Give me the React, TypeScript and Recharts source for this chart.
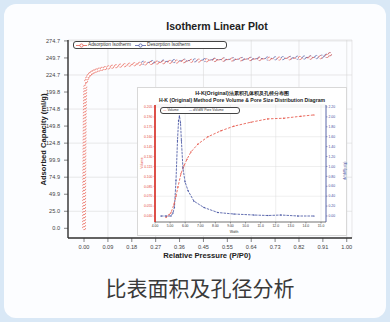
import { LineChart, Line, XAxis, YAxis, CartesianGrid } from "recharts";

// main isotherm: relative pressure (P/P0) vs adsorbed capacity (ml/g)
const ADS_P = [
  0.0, 0.0001, 0.0001, 0.0002, 0.0002, 0.0003, 0.0003, 0.0004, 0.0004, 0.0005,
  0.0005, 0.0006, 0.0006, 0.0007, 0.0007, 0.0008, 0.0008, 0.0009, 0.0009, 0.001,
  0.001, 0.0011, 0.0012, 0.0013, 0.0014, 0.0015, 0.0016, 0.0017, 0.0018, 0.0019,
  0.002, 0.0021, 0.0022, 0.0023, 0.0024, 0.0025, 0.0026, 0.0027, 0.0028, 0.003,
  0.0032, 0.0034, 0.0036, 0.0038, 0.004, 0.0043, 0.0046, 0.005,
  0.008, 0.012, 0.017, 0.023, 0.03, 0.038, 0.047, 0.057, 0.068, 0.08, 0.093,
  0.107, 0.122, 0.138, 0.155, 0.173, 0.192, 0.212, 0.233, 0.255, 0.278, 0.302,
  0.327, 0.353, 0.38, 0.408, 0.437, 0.467, 0.498, 0.53, 0.563, 0.597, 0.632,
  0.668, 0.705, 0.743, 0.782, 0.822, 0.862, 0.9, 0.925, 0.936,
];
const ADS_V = [
  0.3, 4.6, 9.1, 13.4, 17.9, 22.5, 26.8, 31.2, 35.7, 40.1,
  44.6, 49.0, 53.3, 57.9, 62.4, 66.7, 71.2, 75.6, 80.1, 84.5,
  88.9, 93.3, 97.8, 102.2, 106.7, 111.0, 115.5, 119.9, 124.3, 128.8,
  133.2, 137.6, 142.0, 146.5, 150.9, 155.3, 159.8, 164.2, 168.6, 173.0,
  177.4, 181.9, 186.2, 190.6, 195.1, 199.5, 203.8, 207.6,
  215.8, 219.9, 223.4, 226.1, 228.2, 229.9, 231.3, 232.6, 233.7, 234.8, 235.9,
  236.8, 237.6, 238.4, 239.1, 239.8, 240.5, 241.1, 241.7, 242.3, 242.9, 243.4,
  243.9, 244.4, 244.9, 245.4, 245.8, 246.3, 246.7, 247.1, 247.4, 247.7, 248.0,
  248.2, 248.5, 248.8, 249.2, 249.6, 250.1, 250.8, 252.6, 255.2,
];
const DES_P = [
  0.936, 0.922, 0.905, 0.885, 0.862, 0.838, 0.812, 0.785, 0.757, 0.728, 0.698,
  0.667, 0.635, 0.602, 0.568, 0.533, 0.497, 0.46, 0.422, 0.383, 0.343, 0.302,
  0.26, 0.225,
];
const DES_V = [
  255.2, 252.9, 251.6, 251.0, 250.6, 250.3, 250.0, 249.7, 249.4, 249.2, 248.9,
  248.7, 248.4, 248.1, 247.8, 247.5, 247.1, 246.7, 246.2, 245.7, 245.1, 244.4,
  243.6, 242.6,
];
const MAIN_X_TICKS = [0, 0.0909, 0.1818, 0.2727, 0.3636, 0.4545, 0.5455, 0.6364, 0.7273, 0.8182, 0.9091, 1.0];
const MAIN_Y_TICKS = [0, 24.97, 49.94, 74.91, 99.88, 124.82, 149.82, 174.79, 199.76, 224.73, 249.7, 274.67];

// inset: H-K pore size distribution
const VOL_W = [4.73, 4.93, 5.06, 5.26, 5.39, 5.52, 5.72, 5.92, 6.12, 6.38, 6.85, 7.51, 8.37, 9.23, 10.36, 11.48, 12.54, 13.67, 14.53];
const VOL = [0.038, 0.042, 0.045, 0.058, 0.07, 0.084, 0.104, 0.116, 0.126, 0.137, 0.149, 0.16, 0.169, 0.176, 0.182, 0.187, 0.188, 0.191, 0.193];
const DIST_W = [4.4, 4.73, 5.06, 5.19, 5.29, 5.39, 5.49, 5.56, 5.62, 5.69, 5.75, 5.85, 5.99, 6.19, 6.58, 7.25, 8.17, 9.23, 10.56, 11.48, 12.34, 13.47, 14.53];
const DIST = [0.0, 0.0, 0.0, 0.06, 0.18, 0.71, 1.52, 1.92, 2.02, 1.88, 1.52, 0.97, 0.69, 0.51, 0.3, 0.17, 0.07, 0.04, 0.02, 0.01, 0.02, 0.0, 0.0];
const INSET_X_TICKS = [4, 5, 6, 7, 8, 9, 10, 11, 12, 13, 14, 15];
const INSET_X_LABELS = ["4.00", "5.00", "6.00", "7.00", "8.00", "9.00", "10.0", "11.0", "12.0", "13.0", "14.0", "15.0"];
const INSET_L_TICKS = [0.04, 0.055, 0.07, 0.085, 0.1, 0.115, 0.13, 0.145, 0.16, 0.175, 0.19, 0.205];
const INSET_R_TICKS = [0, 0.2, 0.4, 0.6, 0.8, 1.0, 1.2, 1.4, 1.6, 1.8, 2.0, 2.2];

const RED = "#e44b3e";
const BLUE = "#3d4c9e";
const FONT = "'Liberation Sans', Arial, sans-serif";

const adsorption = ADS_P.map((x, i) => ({ x, y: ADS_V[i] }));
const desorption = DES_P.map((x, i) => ({ x, y: DES_V[i] }));
const volume = VOL_W.map((x, i) => ({ x, v: VOL[i] }));
const dist = DIST_W.map((x, i) => ({ x, d: DIST[i] }));
const minorTicks = Array.from({ length: 56 }, (_, i) => -0.0545 + i * 0.01818);

function LegendItem({ color, label }: { color: string; label: string }) {
  return (
    <span style={{ display: "inline-flex", alignItems: "center", marginRight: 4 }}>
      <svg width={11} height={5}>
        <line x1={0} y1={2.5} x2={11} y2={2.5} stroke={color} strokeWidth={0.7} />
        <circle cx={5.5} cy={2.5} r={1.6} fill="#fff" stroke={color} strokeWidth={0.7} />
      </svg>
      <span style={{ marginLeft: 1 }}>{label}</span>
    </span>
  );
}

function Inset() {
  return (
    <div
      style={{
        position: "absolute",
        left: 137,
        top: 87,
        width: 208,
        height: 147,
        background: "#fff",
        border: "0.5px solid #d8d8d8",
        fontFamily: FONT,
      }}
    >
      <div style={{ position: "absolute", left: 0, width: 208, top: 2, textAlign: "center", fontSize: 5.4, fontWeight: 700, color: "#222", lineHeight: "6px" }}>
        H-K(Original)法累积孔体积及孔径分布图
      </div>
      <div style={{ position: "absolute", left: 0, width: 208, top: 9, textAlign: "center", fontSize: 5.1, fontWeight: 700, color: "#222", lineHeight: "6px", whiteSpace: "nowrap" }}>
        H-K (Original) Method Pore Volume & Pore Size Distribution Diagram
      </div>
      <LineChart width={208} height={147} margin={{ top: 17, right: 6, bottom: 5, left: 3 }}>
        <CartesianGrid yAxisId="l" stroke="#dedede" strokeWidth={0.5} />
        <XAxis
          type="number"
          dataKey="x"
          domain={[4, 15.33]}
          allowDataOverflow
          ticks={INSET_X_TICKS}
          tickFormatter={(v: number) => INSET_X_LABELS[INSET_X_TICKS.indexOf(v)]}
          height={8}
          tickSize={1.5}
          tickMargin={1}
          tick={{ fontSize: 3.4, fill: "#333", fontFamily: FONT }}
          axisLine={{ stroke: "#444", strokeWidth: 0.7 }}
          tickLine={{ stroke: "#444", strokeWidth: 0.5 }}
        />
        <YAxis
          yAxisId="l"
          type="number"
          domain={[0.031, 0.208]}
          allowDataOverflow
          ticks={INSET_L_TICKS}
          tickFormatter={(v: number) => v.toFixed(3)}
          width={14}
          tickSize={1.5}
          tickMargin={1}
          tick={{ fontSize: 3.4, fill: RED, fontFamily: FONT }}
          axisLine={{ stroke: "#d6261e", strokeWidth: 1.6 }}
          tickLine={{ stroke: RED, strokeWidth: 0.5 }}
        />
        <YAxis
          yAxisId="r"
          orientation="right"
          type="number"
          domain={[-0.121, 2.24]}
          allowDataOverflow
          ticks={INSET_R_TICKS}
          tickFormatter={(v: number) => v.toFixed(2)}
          width={14}
          tickSize={1.5}
          tickMargin={1}
          tick={{ fontSize: 3.4, fill: BLUE, fontFamily: FONT }}
          axisLine={{ stroke: BLUE, strokeWidth: 0.8 }}
          tickLine={{ stroke: BLUE, strokeWidth: 0.5 }}
        />
        <Line
          yAxisId="r"
          data={dist}
          dataKey="d"
          stroke={BLUE}
          strokeWidth={0.8}
          strokeDasharray="2.5 1"
          dot={{ r: 0.5, fill: BLUE, stroke: BLUE, strokeWidth: 0.3 }}
          isAnimationActive={false}
        />
        <Line
          yAxisId="l"
          data={volume}
          dataKey="v"
          stroke={RED}
          strokeWidth={0.8}
          strokeDasharray="2.5 1.5"
          dot={{ r: 0.5, fill: RED, stroke: RED, strokeWidth: 0.3 }}
          isAnimationActive={false}
        />
      </LineChart>
      <div
        style={{
          position: "absolute",
          left: 22,
          top: 19,
          width: 76,
          height: 5,
          border: "0.6px solid #444",
          borderRadius: 3,
          background: "#fff",
          fontSize: 3.4,
          lineHeight: "5px",
          display: "flex",
          alignItems: "center",
          paddingLeft: 2,
          color: "#333",
          whiteSpace: "nowrap",
        }}
      >
        <span style={{ color: RED }}>—</span>
        <span style={{ marginLeft: 1, marginRight: 10 }}>Volume</span>
        <span style={{ color: BLUE }}>—</span>
        <span style={{ marginLeft: 1 }}>dV/dW Pore Volume</span>
      </div>
      <div style={{ position: "absolute", left: -6, top: 73, width: 20, textAlign: "center", transform: "rotate(-90deg)", fontSize: 3.4, color: RED }}>
        Volume
      </div>
      <div style={{ position: "absolute", left: 192, top: 81, width: 30, textAlign: "center", transform: "rotate(-90deg)", fontSize: 3.4, color: BLUE }}>
        dV/dW(cc/g)
      </div>
      <div style={{ position: "absolute", left: 86, top: 142, width: 20, textAlign: "center", fontSize: 3.4, color: "#333" }}>
        Width
      </div>
    </div>
  );
}

export default function App() {
  return (
    <div style={{ position: "absolute", left: 0, top: 0, width: 390, height: 322, background: "#d9e8f6", overflow: "hidden" }}>
      <div
        style={{
          position: "absolute",
          left: 4,
          top: 4,
          width: 382,
          height: 314,
          background: "#fcfdff",
          borderRadius: 12,
        }}
      />
      <div style={{ position: "absolute", left: 0, top: 0 }}>
        <LineChart width={390} height={322} margin={{ top: 40, right: 38, bottom: 64, left: 38 }}>
          <CartesianGrid stroke="#d9d9d9" strokeWidth={0.6} />
          <XAxis
            type="number"
            dataKey="x"
            domain={[-0.061, 1.02]}
            allowDataOverflow
            ticks={MAIN_X_TICKS}
            tickFormatter={(v: number) => v.toFixed(2)}
            height={20}
            tickSize={4}
            tickMargin={3}
            tick={{ fontSize: 5.6, fill: "#444", fontFamily: FONT }}
            axisLine={{ stroke: "#333", strokeWidth: 1.4 }}
            tickLine={{ stroke: "#333", strokeWidth: 0.6 }}
          />
          <XAxis
            xAxisId="minor"
            type="number"
            dataKey="x"
            domain={[-0.061, 1.02]}
            allowDataOverflow
            ticks={minorTicks}
            tick={false}
            height={0}
            tickSize={2}
            axisLine={false}
            tickLine={{ stroke: "#333", strokeWidth: 0.5 }}
          />
          <YAxis
            type="number"
            domain={[-14.2, 276]}
            allowDataOverflow
            ticks={MAIN_Y_TICKS}
            tickFormatter={(v: number) => v.toFixed(1)}
            width={30}
            tickSize={4}
            tickMargin={4}
            tick={{ fontSize: 5.6, fill: "#444", fontFamily: FONT }}
            axisLine={{ stroke: "#333", strokeWidth: 1.4 }}
            tickLine={{ stroke: "#333", strokeWidth: 0.6 }}
          />
          <Line
            data={desorption}
            dataKey="y"
            stroke={BLUE}
            strokeWidth={0.7}
            strokeDasharray="3 1.5"
            dot={{ r: 1.6, fill: "#fff", stroke: BLUE, strokeWidth: 0.6 }}
            isAnimationActive={false}
          />
          <Line
            data={adsorption}
            dataKey="y"
            stroke={RED}
            strokeWidth={0.7}
            strokeDasharray="3 1.5"
            dot={{ r: 1.6, fill: "#fff", stroke: RED, strokeWidth: 0.6 }}
            isAnimationActive={false}
          />
        </LineChart>
      </div>
      <div style={{ position: "absolute", left: 0, width: 434, top: 20, textAlign: "center", fontFamily: FONT, fontWeight: 700, fontSize: 10.5, color: "#222" }}>
        Isotherm Linear Plot
      </div>
      <div
        style={{
          position: "absolute",
          left: 73,
          top: 41,
          width: 150,
          height: 6,
          border: "0.7px solid #444",
          borderRadius: 3,
          background: "#fff",
          fontFamily: FONT,
          fontSize: 4.8,
          lineHeight: "6px",
          color: "#333",
          display: "flex",
          alignItems: "center",
          paddingLeft: 2,
          whiteSpace: "nowrap",
        }}
      >
        <LegendItem color={RED} label="Adsorption Isotherm" />
        <LegendItem color={BLUE} label="Desorption Isotherm" />
      </div>
      <div
        style={{
          position: "absolute",
          left: -17,
          top: 135,
          width: 120,
          textAlign: "center",
          transform: "rotate(-90deg)",
          fontFamily: FONT,
          fontWeight: 700,
          fontSize: 7.6,
          color: "#222",
        }}
      >
        Adsorbed Capacity (ml/g)
      </div>
      <div style={{ position: "absolute", left: 147, top: 251, width: 120, textAlign: "center", fontFamily: FONT, fontWeight: 700, fontSize: 7.6, color: "#222" }}>
        Relative Pressure (P/P0)
      </div>
      <Inset />
      <div
        style={{
          position: "absolute",
          left: 0,
          width: 400,
          top: 272,
          textAlign: "center",
          fontFamily: "'Noto Sans CJK SC', sans-serif",
          fontSize: 21,
          color: "#3a3a3a",
          letterSpacing: 0,
        }}
      >
        比表面积及孔径分析
      </div>
    </div>
  );
}
